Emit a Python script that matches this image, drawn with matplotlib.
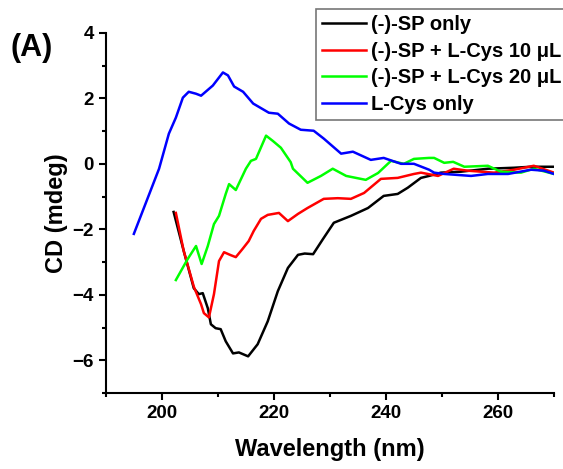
import matplotlib
matplotlib.use("Agg")
import matplotlib.pyplot as plt
from matplotlib.ticker import MultipleLocator

plt.rcParams['font.family'] = ['Liberation Sans', 'DejaVu Sans']
plt.rcParams['font.weight'] = 'bold'

labels = ["(-)-SP only", "(-)-SP + L-Cys 10 \u03bcL", "(-)-SP + L-Cys 20 \u03bcL", "L-Cys only"]
colors = ["black", "red", "#00ff00", "blue"]

sp_x = [202.1, 203.9, 205.7, 206.6, 207.3, 208.2, 208.75, 209.6, 210.5, 211.4, 212.7, 213.75, 215.4,
        217.1, 218.9, 220.7, 222.5, 224.3, 225.5, 227.0, 228.75, 230.7, 233.75, 236.8, 239.6, 242.1,
        243.9, 246.25, 247.7, 249.8, 253.4, 258.2, 262.9, 265.9, 270.0]
sp_y = [-1.47, -2.66, -3.8, -3.98, -3.95, -4.41, -4.9, -5.02, -5.05, -5.42, -5.79, -5.76, -5.88,
        -5.51, -4.81, -3.89, -3.18, -2.78, -2.74, -2.76, -2.3, -1.8, -1.59, -1.35, -0.98, -0.92,
        -0.73, -0.43, -0.37, -0.27, -0.24, -0.15, -0.12, -0.09, -0.09]

r10_x = [202.5, 203.9, 205.7, 207.0, 207.5, 208.4, 209.3, 210.2, 211.1, 212.3, 213.2, 214.4, 215.5,
         216.4, 217.7, 218.9, 220.9, 222.5, 224.3, 226.0, 228.9, 231.4, 233.75, 236.1, 239.1, 242.1,
         245.0, 246.25, 249.3, 252.1, 254.6, 259.3, 262.9, 266.4, 270.0]
r10_y = [-1.5, -2.66, -3.75, -4.29, -4.56, -4.69, -3.98, -2.97, -2.7, -2.79, -2.85, -2.6, -2.36,
         -2.05, -1.68, -1.56, -1.5, -1.75, -1.53, -1.35, -1.07, -1.05, -1.07, -0.89, -0.46, -0.43,
         -0.31, -0.27, -0.37, -0.15, -0.21, -0.27, -0.18, -0.06, -0.27]

g20_x = [202.5, 204.6, 206.1, 207.1, 208.2, 209.3, 210.2, 211.4, 212.0, 213.2, 215.0, 215.9, 216.8,
         218.6, 219.8, 221.25, 223.0, 223.4, 226.0, 228.4, 230.5, 232.9, 236.4, 238.6, 240.9, 243.2,
         245.0, 247.7, 248.6, 250.4, 252.0, 254.0, 258.2, 260.5, 264.1, 266.4, 270.0]
g20_y = [-3.55, -2.91, -2.51, -3.06, -2.51, -1.84, -1.59, -0.92, -0.62, -0.8, -0.15, 0.09, 0.15,
         0.86, 0.7, 0.49, 0.05, -0.15, -0.58, -0.37, -0.15, -0.37, -0.49, -0.28, 0.09, 0.0,
         0.15, 0.18, 0.18, 0.03, 0.06, -0.09, -0.06, -0.24, -0.27, -0.15, -0.31]

cys_x = [195.0, 199.5, 201.25, 202.5, 203.75, 204.8, 206.1, 207.0, 209.1, 210.9, 211.8, 212.9, 214.5,
         216.3, 219.1, 220.7, 222.7, 224.8, 227.1, 228.9, 232.0, 234.1, 237.3, 239.6, 242.7, 245.0,
         247.7, 248.6, 250.4, 255.2, 258.2, 261.8, 265.9, 268.2, 270.0]
cys_y = [-2.14, -0.15, 0.92, 1.41, 2.02, 2.2, 2.14, 2.08, 2.39, 2.79, 2.7, 2.36, 2.2,
         1.84, 1.56, 1.53, 1.23, 1.04, 1.01, 0.77, 0.31, 0.37, 0.12, 0.18, 0.0, 0.0,
         -0.18, -0.27, -0.31, -0.37, -0.31, -0.31, -0.18, -0.21, -0.31]

xs = [sp_x, r10_x, g20_x, cys_x]
ys = [sp_y, r10_y, g20_y, cys_y]

fig = plt.figure(figsize=(5.63, 4.69), dpi=100)
ax = fig.add_axes([0.188, 0.162, 0.796, 0.768])

lines = []
for x, y, c, lab in zip(xs, ys, colors, labels):
    ln, = ax.plot(x, y, color=c, lw=1.8, label=lab, solid_joinstyle='round')
    lines.append(ln)

ax.set_xlim(190, 270)
ax.set_ylim(-7, 4)
ax.xaxis.set_major_locator(MultipleLocator(20))
ax.xaxis.set_minor_locator(MultipleLocator(10))
ax.yaxis.set_major_locator(MultipleLocator(2))
ax.yaxis.set_minor_locator(MultipleLocator(1))
ax.spines['top'].set_visible(False)
ax.spines['right'].set_visible(False)
for s in ['left', 'bottom']:
    ax.spines[s].set_linewidth(1.5)
ax.tick_params(which='major', direction='out', length=5, width=1.5, labelsize=13.5)
ax.tick_params(which='minor', direction='out', length=3, width=1.5)
for t in ax.get_xticklabels() + ax.get_yticklabels():
    t.set_fontweight('bold')

ax.set_xlabel("Wavelength (nm)", fontsize=17, fontweight='bold', labelpad=12)
ax.set_ylabel("CD (mdeg)", fontsize=17, fontweight='bold', labelpad=3)

leg = fig.legend(handles=lines, loc='upper left', bbox_to_anchor=(0.561, 0.981),
                 fontsize=14.5, frameon=True, fancybox=False, handlelength=2.2,
                 handletextpad=0.25, labelspacing=0.38, borderpad=0.3, borderaxespad=0)
leg.get_frame().set_edgecolor('#555555')
leg.get_frame().set_linewidth(1.2)
for t in leg.get_texts():
    t.set_fontweight('bold')

fig.text(0.018, 0.897, "(A)", fontsize=22, fontweight='bold', va='center', ha='left')

fig.savefig("out.png", dpi=100)
